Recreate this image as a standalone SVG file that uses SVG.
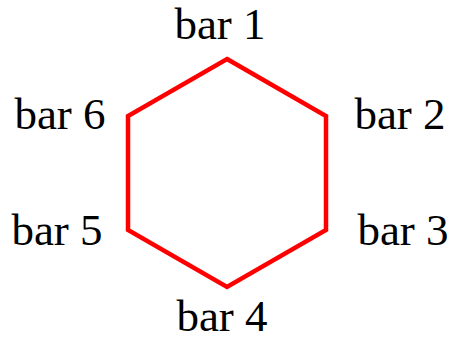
<svg xmlns="http://www.w3.org/2000/svg" width="449" height="337" viewBox="0 0 449 337">
<style>
text{font-family:"Liberation Serif","Times New Roman",serif;font-size:45px;fill:#000;text-anchor:middle}
.hex{fill:none;stroke:#ff0000;stroke-width:4.5;stroke-linejoin:miter}
</style>
<rect width="449" height="337" fill="#fff"/>
<g id="connectors">
<polygon class="hex" points="227,59 326,116 326,230 227,287 128,230 128,116"/>
</g>
<g id="bar1"><text x="220" y="39">bar 1</text></g>
<g id="bar2"><text x="400" y="129">bar 2</text></g>
<g id="bar3"><text x="403" y="245">bar 3</text></g>
<g id="bar4"><text x="222" y="331">bar 4</text></g>
<g id="bar5"><text x="57" y="245">bar 5</text></g>
<g id="bar6"><text x="60" y="129">bar 6</text></g>
</svg>
